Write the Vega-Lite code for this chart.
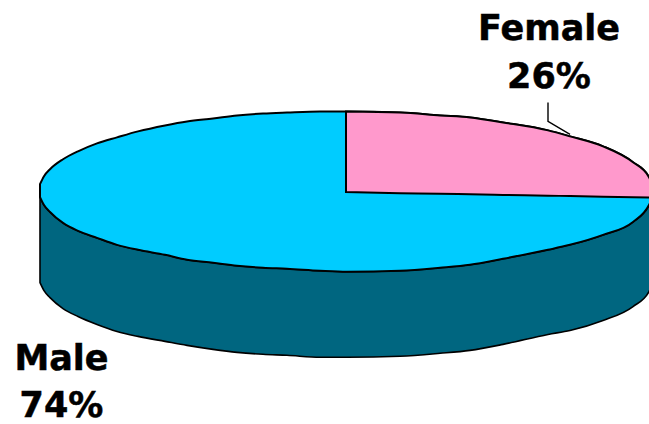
{
"$schema":"https://vega.github.io/schema/vega-lite/v6.json",
"width":649,"height":424,"padding":0,
"autosize":{"type":"fit","contains":"padding"},
"background":"white",
"view":{"stroke":null},
"datasets":{
"rim":[
{"x":40,"u":184,"l":197,"b":283},{"x":44,"u":176,"l":205,"b":291},{"x":50,"u":169,"l":212,"b":298},{"x":63,"u":159,"l":223,"b":309},{"x":78,"u":151,"l":231,"b":317},{"x":97,"u":143,"l":238,"b":325},{"x":117,"u":137,"l":245,"b":332},{"x":138,"u":131,"l":250,"b":337},{"x":165,"u":125,"l":255,"b":342},{"x":187,"u":121,"l":260,"b":346},{"x":213,"u":118,"l":263,"b":350},{"x":237,"u":115,"l":266,"b":353},{"x":263,"u":113,"l":268,"b":355},{"x":287,"u":112,"l":269,"b":356},{"x":320,"u":111,"l":271,"b":358},{"x":347,"u":111,"l":272,"b":358},{"x":400,"u":112,"l":271,"b":357},{"x":440,"u":115,"l":268,"b":354},{"x":470,"u":117,"l":265,"b":351},{"x":503,"u":122,"l":259,"b":345},{"x":548,"u":130,"l":250,"b":335},{"x":570,"u":136,"l":245,"b":331},{"x":603,"u":146,"l":235,"b":321},{"x":633,"u":162,"l":222,"b":307},{"x":649,"u":177,"l":205,"b":292},{"x":653,"u":188,"l":196,"b":282}
],
"female":[
{"x":346,"u":111,"c":192},{"x":400,"u":112,"c":193.1},{"x":440,"u":115,"c":193.6},{"x":470,"u":117,"c":194.2},{"x":503,"u":122,"c":194.8},{"x":548,"u":130,"c":195.6},{"x":570,"u":136,"c":196},{"x":603,"u":146,"c":196.6},{"x":633,"u":162,"c":197.2},{"x":649,"u":177,"c":197.5},{"x":653,"u":188,"c":197.6}
],
"leader":[{"x":548,"y":102,"o":1},{"x":548,"y":121,"o":2},{"x":570,"y":134,"o":3}],
"labels":[
{"x":549,"y":39,"t":"Female"},{"x":549,"y":87,"t":"26%"},
{"x":61.5,"y":371,"t":"Male"},{"x":61.5,"y":418,"t":"74%"}
]
},
"encoding":{},
"layer":[
{"data":{"name":"rim"},
 "mark":{"type":"area","orient":"vertical","interpolate":"monotone","fill":"#006680","stroke":"black","strokeWidth":1.6,"clip":true},
 "encoding":{
  "x":{"field":"x","type":"quantitative","scale":{"domain":[0,649],"nice":false,"zero":false},"axis":null},
  "y":{"field":"l","type":"quantitative","scale":{"domain":[423,-1],"nice":false,"zero":false},"axis":null,"stack":null},
  "y2":{"field":"b"}}},
{"data":{"name":"rim"},
 "mark":{"type":"area","orient":"vertical","interpolate":"monotone","fill":"#00CCFF","stroke":"black","strokeWidth":2,"clip":true},
 "encoding":{
  "x":{"field":"x","type":"quantitative","scale":{"domain":[0,649],"nice":false,"zero":false},"axis":null},
  "y":{"field":"u","type":"quantitative","scale":{"domain":[423,-1],"nice":false,"zero":false},"axis":null,"stack":null},
  "y2":{"field":"l"}}},
{"data":{"name":"female"},
 "mark":{"type":"area","orient":"vertical","interpolate":"monotone","fill":"#FF99CC","stroke":"black","strokeWidth":2,"clip":true},
 "encoding":{
  "x":{"field":"x","type":"quantitative","scale":{"domain":[0,649],"nice":false,"zero":false},"axis":null},
  "y":{"field":"u","type":"quantitative","scale":{"domain":[423,-1],"nice":false,"zero":false},"axis":null,"stack":null},
  "y2":{"field":"c"}}},
{"data":{"name":"leader"},
 "mark":{"type":"line","color":"black","strokeWidth":1.4},
 "encoding":{
  "x":{"field":"x","type":"quantitative","scale":{"domain":[0,649],"nice":false,"zero":false},"axis":null},
  "y":{"field":"y","type":"quantitative","scale":{"domain":[423,-1],"nice":false,"zero":false},"axis":null},
  "order":{"field":"o","type":"quantitative"}}},
{"data":{"name":"labels"},
 "mark":{"type":"text","font":"DejaVu Sans","fontWeight":"bold","fontSize":35,"align":"center","baseline":"alphabetic","color":"black","stroke":"black","strokeWidth":0.5},
 "encoding":{
  "x":{"field":"x","type":"quantitative","scale":{"domain":[0,649],"nice":false,"zero":false},"axis":null},
  "y":{"field":"y","type":"quantitative","scale":{"domain":[423,-1],"nice":false,"zero":false},"axis":null},
  "text":{"field":"t","type":"nominal"}}}
]
}
